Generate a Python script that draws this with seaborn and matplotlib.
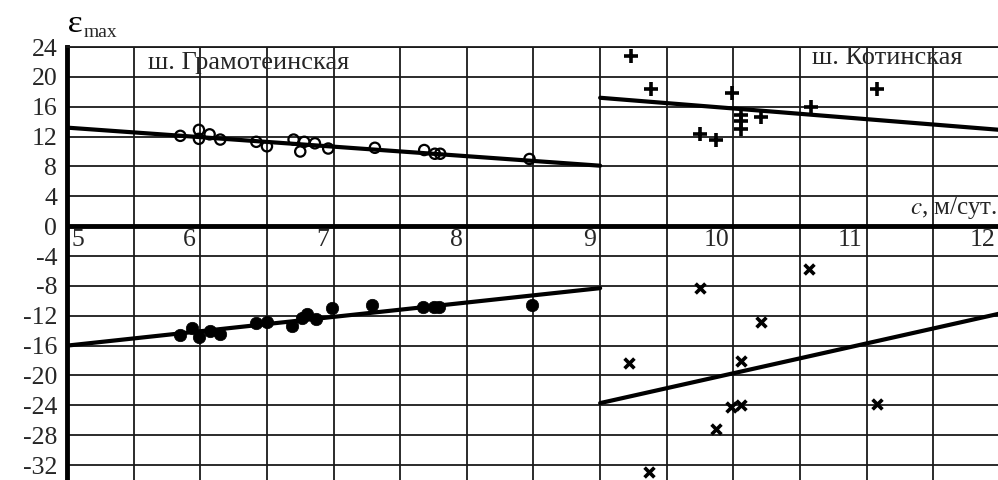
import numpy as np
import pandas as pd
import matplotlib
matplotlib.use("Agg")
import matplotlib.pyplot as plt
import seaborn as sns
from matplotlib.textpath import TextPath
from matplotlib.patches import PathPatch
from matplotlib.font_manager import FontProperties
from matplotlib.transforms import Affine2D, IdentityTransform

# --- data: ш. Грамотеинская (c < 9) -------------------------------------
gram_pos_c = [5.85, 5.99, 5.99, 6.07, 6.15, 6.42, 6.50, 6.70, 6.75, 6.78,
              6.86, 6.96, 7.31, 7.68, 7.76, 7.80, 8.47]
gram_pos_e = [12.1, 12.9, 11.7, 12.3, 11.6, 11.3, 10.7, 11.6, 10.0, 11.3,
              11.1, 10.4, 10.5, 10.2, 9.7, 9.7, 9.0]
gram_neg_c = [5.85, 5.94, 5.99, 6.07, 6.15, 6.42, 6.50, 6.69, 6.76, 6.80,
              6.87, 6.99, 7.29, 7.67, 7.75, 7.79, 8.49]
gram_neg_e = [-14.6, -13.7, -14.8, -14.0, -14.4, -13.0, -12.9, -13.4, -12.3,
              -11.8, -12.4, -11.0, -10.6, -10.8, -10.8, -10.8, -10.6]

# --- data: ш. Котинская (c > 9) --------------------------------------------
kot_pos_c = [9.23, 9.38, 9.75, 9.87, 9.99, 10.06, 10.06, 10.06, 10.21, 10.58, 11.08]
kot_pos_e = [22.8, 18.4, 12.4, 11.6, 17.9, 14.9, 14.1, 13.0, 14.6, 15.9, 18.4]
kot_neg_c = [9.22, 9.37, 9.75, 10.57, 10.21, 10.06, 9.98, 10.06, 9.87, 11.08]
kot_neg_e = [-18.3, -32.9, -8.3, -5.8, -12.8, -18.0, -24.2, -24.0, -27.2, -23.8]

# trend lines (end points)
gram_pos_fit_c, gram_pos_fit_e = [5.0, 9.0], [13.2, 8.1]
gram_neg_fit_c, gram_neg_fit_e = [5.0, 9.0], [-16.0, -8.3]
kot_pos_fit_c, kot_pos_fit_e = [9.0, 12.0], [17.2, 12.9]
kot_neg_fit_c, kot_neg_fit_e = [9.0, 12.0], [-23.7, -11.7]

x_ticks = [5, 6, 7, 8, 9, 10, 11, 12]
y_ticks = [24, 20, 16, 12, 8, 4, 0, -4, -8, -12, -16, -20, -24, -28, -32]

sns.set_theme(style="white")
plt.rcParams["font.family"] = ["Liberation Serif", "DejaVu Serif"]
plt.rcParams["mathtext.fontset"] = "stix"

W, H = 998, 480
fig = plt.figure(figsize=(W / 100, H / 100), dpi=100)
ax = fig.add_axes([67 / W, 0.0, 933 / W, 1 - 47 / H])
ax.set_xlim(5, 12)
ax.set_ylim(-34.0, 24)

# grid
ax.set_xticks(np.arange(5, 12.01, 0.5))
ax.set_yticks(y_ticks)
ax.set_xticklabels([])
ax.set_yticklabels([str(v) for v in y_ticks], fontsize=18.5)
ax.tick_params(axis="both", length=0)
ax.tick_params(axis="y", pad=7)
ax.grid(True, color="#1a1a1a", linewidth=1.3)
ax.set_axisbelow(True)

for s in ["right", "bottom"]:
    ax.spines[s].set_visible(False)
ax.spines["top"].set_color("#1a1a1a")
ax.spines["top"].set_linewidth(1.3)
ax.spines["left"].set_color("black")
ax.spines["left"].set_linewidth(3.5)
ax.axhline(0, color="black", linewidth=3.5, zorder=3)

# integer labels of c along the zero line
for v in x_ticks:
    if v == 5:
        ax.annotate(str(v), xy=(v, 0), xytext=(3, -2), textcoords="offset points",
                    ha="left", va="top", fontsize=18.5)
    else:
        ax.annotate(str(v), xy=(v, 0), xytext=(-3, -2), textcoords="offset points",
                    ha="right", va="top", fontsize=18.5)

# trend lines
for fc, fe in [(gram_pos_fit_c, gram_pos_fit_e), (gram_neg_fit_c, gram_neg_fit_e),
               (kot_pos_fit_c, kot_pos_fit_e), (kot_neg_fit_c, kot_neg_fit_e)]:
    sns.lineplot(x=fc, y=fe, ax=ax, color="black", linewidth=3, zorder=4)

# measured points
sns.scatterplot(x=gram_pos_c, y=gram_pos_e, ax=ax, marker="o", s=55,
                facecolor="none", edgecolor="black", linewidth=1.6, zorder=5)
sns.scatterplot(x=gram_neg_c, y=gram_neg_e, ax=ax, marker="o", s=80,
                color="black", edgecolor="black", linewidth=0.5, zorder=5)
sns.scatterplot(x=kot_pos_c, y=kot_pos_e, ax=ax, marker="+", s=90,
                color="black", linewidth=2.6, zorder=5)
sns.scatterplot(x=kot_neg_c, y=kot_neg_e, ax=ax, marker="x", s=50,
                color="black", linewidth=2.6, zorder=5)

# annotations
ax.text(5.61, 21.9, "ш. Грамотеинская", fontsize=19, ha="left", va="center",
        zorder=6)
ax.text(10.59, 22.5, "ш. Котинская", fontsize=19, ha="left", va="center",
        zorder=6)
ax.text(11.98, 0.7, r"$c$, м/сут.", fontsize=18, ha="right", va="bottom",
        zorder=6)

# axis name: a slightly widened epsilon glyph followed by the subscript "max"
eps = TextPath((0, 0), "ε", size=20, prop=FontProperties(family="Liberation Serif"))
ext = eps.get_extents()
sy = 15.0 / ext.height
sx = sy * 1.15
tr = (Affine2D().translate(-ext.x0, -ext.y0).scale(sx, sy)
      .translate(69, H - 32))
fig.patches.append(PathPatch(tr.transform_path(eps), facecolor="black",
                             edgecolor="none", transform=IdentityTransform(),
                             figure=fig))
fig.text(69 / W + ext.width * sx / W + 2 / W, 1 - 37 / H, "max", fontsize=14,
         ha="left", va="baseline")

fig.savefig("out.png", dpi=100)
